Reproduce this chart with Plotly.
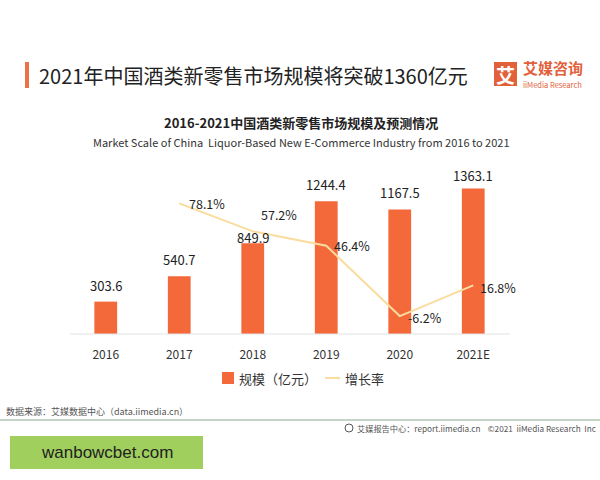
import plotly.graph_objects as go

categories = ["2016", "2017", "2018", "2019", "2020", "2021E"]
scale_values = [303.6, 540.7, 849.9, 1244.4, 1167.5, 1363.1]
growth_cats = ["2017", "2018", "2019", "2020", "2021E"]
growth_values = [78.1, 57.2, 46.4, -6.2, 16.8]
series_names = ["规模（亿元）", "增长率"]

# label placement styles (pixels)
bar_label_shift = [5, 5, -6, 5, 5, 2]
growth_label_dx = [8, 6, 6, 6, 5]
growth_label_dy = [0, 17, 0, -1, -2]

FONT = "Noto Sans CJK SC"
BAR_COLOR = "#f4693a"
LINE_COLOR = "#f9dc9e"

L, R, T, B = 69, 510, 174, 334
def px(x):
    return (x - L) / (R - L)
def py(y):
    return (B - y) / (B - T)

fig = go.Figure()
fig.add_trace(go.Bar(
    x=categories, y=scale_values, name=series_names[0],
    marker=dict(color=BAR_COLOR, line=dict(width=0)), width=0.31,
))
fig.add_trace(go.Scatter(
    x=growth_cats, y=growth_values, name=series_names[1], yaxis="y2",
    mode="lines", line=dict(color=LINE_COLOR, width=2),
))

annotations = []
for c, v, sh in zip(categories, scale_values, bar_label_shift):
    annotations.append(dict(x=categories.index(c), y=v, xref="x", yref="y", text=f"{v:.1f}", showarrow=False,
                            xanchor="center", yanchor="bottom", yshift=sh,
                            font=dict(size=13, color="#222", family=FONT)))
for c, v, dx, dy in zip(growth_cats, growth_values, growth_label_dx, growth_label_dy):
    annotations.append(dict(x=categories.index(c), y=v, xref="x", yref="y2", text=f"{v:.1f}%", showarrow=False,
                            xanchor="left", yanchor="middle", xshift=dx, yshift=dy,
                            font=dict(size=12.5, color="#222", family=FONT)))

paper_notes = [
    dict(x=px(37), y=py(75), text="2021年中国酒类新零售市场规模将突破1360亿元",
         xanchor="left", yanchor="middle", font=dict(size=20, color="#222", family=FONT)),
    dict(x=px(301), y=py(123), text="<b>2016-2021中国酒类新零售市场规模及预测情况</b>",
         xanchor="center", yanchor="middle", font=dict(size=13, color="#222", family=FONT)),
    dict(x=px(301), y=py(142), text="Market Scale of China  Liquor-Based New E-Commerce Industry from 2016 to 2021",
         xanchor="center", yanchor="middle", font=dict(size=11, color="#333", family=FONT)),
    dict(x=px(505.5), y=py(74), text="<b>艾</b>", xanchor="center", yanchor="middle",
         font=dict(size=19, color="white", family=FONT)),
    dict(x=px(521), y=py(68), text="<b>艾媒咨询</b>", xanchor="left", yanchor="middle",
         font=dict(size=15, color="#e2603a", family=FONT)),
    dict(x=px(521), y=py(84.5), text="iiMedia Research", xanchor="left", yanchor="middle",
         font=dict(size=7.5, color="#e2603a", family=FONT)),
    # legend texts
    dict(x=px(237), y=py(378), text=series_names[0], xanchor="left", yanchor="middle",
         font=dict(size=13, color="#333", family=FONT)),
    dict(x=px(343), y=py(378), text=series_names[1], xanchor="left", yanchor="middle",
         font=dict(size=13, color="#333", family=FONT)),
    dict(x=px(4), y=py(411), text="数据来源：艾媒数据中心（data.iimedia.cn）", xanchor="left", yanchor="middle",
         font=dict(size=9, color="#555", family=FONT)),
    dict(x=px(598), y=py(428), text="艾媒报告中心：report.iimedia.cn    ©2021  iiMedia Research  Inc", xanchor="right", yanchor="middle",
         font=dict(size=8.2, color="#555", family=FONT)),
    dict(x=px(107), y=py(452), text="wanbowcbet.com", xanchor="center", yanchor="middle",
         font=dict(size=17, color="#222", family="Liberation Sans")),
]
for a in paper_notes:
    a.update(xref="paper", yref="paper", showarrow=False)
annotations += paper_notes

shapes = [
    dict(type="rect", x0=px(25), x1=px(29), y0=py(62), y1=py(88), fillcolor="#ee7046", line=dict(width=0)),
    dict(type="rect", x0=px(494), x1=px(517), y0=py(62), y1=py(86), fillcolor="#e2603a", line=dict(width=0)),
    # legend markers
    dict(type="rect", x0=px(222), x1=px(234), y0=py(372), y1=py(384), fillcolor=BAR_COLOR, line=dict(width=0)),
    dict(type="line", x0=px(325), x1=px(340), y0=py(378), y1=py(378), line=dict(color=LINE_COLOR, width=2)),
    dict(type="line", x0=px(0), x1=px(600), y0=py(420), y1=py(420), line=dict(color="#8aa88a", width=1)),
    dict(type="circle", x0=px(345), x1=px(353), y0=py(424), y1=py(432), line=dict(color="#555", width=1)),
    dict(type="rect", x0=px(10), x1=px(203), y0=py(436), y1=py(469), fillcolor="#a0cf5e", line=dict(width=0)),
    dict(type="line", x0=px(70), x1=px(510), y0=py(334), y1=py(334), line=dict(color="#e3e3e3", width=1)),
]
for shp in shapes:
    shp.update(xref="paper", yref="paper")

fig.update_layout(
    width=600, height=480,
    margin=dict(l=L, r=600 - R, t=T, b=480 - B),
    paper_bgcolor="white", plot_bgcolor="white",
    font=dict(family=FONT, color="#333"),
    showlegend=False,
    xaxis=dict(type="category", categoryorder="array", categoryarray=categories,
               range=[-0.5, 5.5], showgrid=False, zeroline=False, showline=False,
               ticks="", tickfont=dict(size=12, color="#333", family=FONT), ticklabelstandoff=12),
    yaxis=dict(range=[0, 1500], visible=False, showgrid=False, zeroline=False),
    yaxis2=dict(range=[-19.6, 100.1], overlaying="y", visible=False, showgrid=False, zeroline=False),
    annotations=annotations, shapes=shapes,
)

fig.write_html("out.html")
